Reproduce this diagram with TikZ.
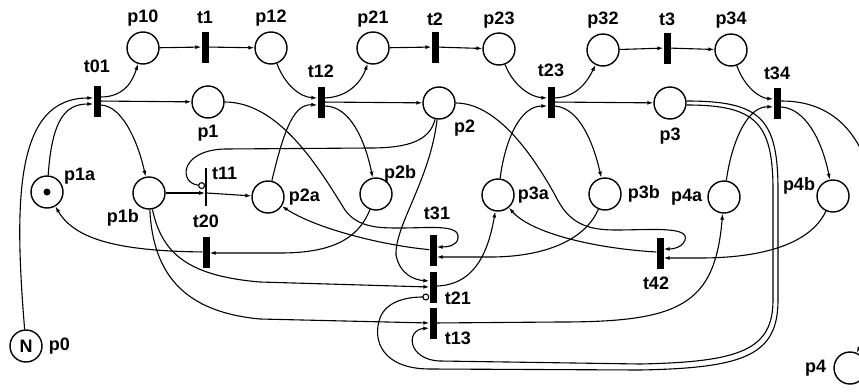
\documentclass[tikz,border=0pt]{standalone}
\usepackage{fontspec}
\setsansfont{Liberation Sans}
\usetikzlibrary{arrows.meta,positioning}
\tikzset{
  % Place
  place/.style={circle,draw,line width=1.4pt,minimum size=32pt,inner sep=0pt},
  % Timed transition
  trans/.style={rectangle,fill=black,minimum width=7pt,minimum height=31pt,inner sep=0pt},
  % Immediate transition
  imm/.style={rectangle,fill=black,minimum width=1.4pt,minimum height=38pt,inner sep=0pt},
  token/.style={circle,fill=black,minimum size=7pt,inner sep=0pt},
  % Labels
  lbl/.style={inner sep=0pt,font=\sffamily\bfseries\fontsize{18pt}{18pt}\selectfont},
  % Arcs
  arr/.style={-{Latex[length=6pt,width=4pt]},line width=1.1pt},
  inh/.style={-{Circle[open,length=7pt]},line width=1.1pt}
}
\begin{document}
\begin{tikzpicture}[x=1pt,y=-1pt]
  \useasboundingbox (0,0) rectangle (859,391);

  % places
  \node[place] (p10) at (143,48)  {};
  \node[place] (p12) at (271,48)  {};
  \node[place] (p21) at (373,48)  {};
  \node[place] (p23) at (499,49)  {};
  \node[place] (p32) at (603,50)  {};
  \node[place] (p34) at (731,50)  {};
  \node[place] (p1)  at (208,102) {};
  \node[place] (p2)  at (439,103) {};
  \node[place] (p3)  at (670,103) {};
  \node[place] (p1a) at (47,192)  {};
  \node[place] (p1b) at (149,193) {};
  \node[place] (p2a) at (268,197) {};
  \node[place] (p2b) at (376,194) {};
  \node[place] (p3a) at (498,195) {};
  \node[place] (p3b) at (605,194) {};
  \node[place] (p4a) at (724,197) {};
  \node[place] (p4b) at (833,196) {};
  \node[place] (p4)  at (850,368) {};
  \node[place,lbl] (p0) at (26,346) {N};
  \node[token] (tok) at (p1a) {};

  % transitions
  \node[trans] (t01) at (97,101)  {};
  \node[trans] (t1)  at (205,47)  {};
  \node[trans] (t12) at (321,102) {};
  \node[trans] (t2)  at (435,47)  {};
  \node[trans] (t23) at (551,102) {};
  \node[trans] (t3)  at (667,48)  {};
  \node[trans] (t34) at (777,103) {};
  \node[imm]   (t11) at (206,187) {};
  \node[trans] (t20) at (206,252) {};
  \node[trans] (t31) at (433,250) {};
  \node[trans] (t21) at (433,287) {};
  \node[trans] (t13) at (433,323) {};
  \node[trans] (t42) at (660,253) {};

  % labels
  \node[lbl,above=5pt of p10] (Lp10) {p10};
  \node[lbl,above=5pt of p12] (Lp12) {p12};
  \node[lbl,above=4pt of p21] (Lp21) {p21};
  \node[lbl,above=4pt of p23] (Lp23) {p23};
  \node[lbl,above=5pt of p32] (Lp32) {p32};
  \node[lbl,above=5pt of p34] (Lp34) {p34};
  \node[lbl,above=7pt of t1]  (Lt1)  {t1};
  \node[lbl,above=5pt of t2]  (Lt2)  {t2};
  \node[lbl,above=6pt of t3]  (Lt3)  {t3};
  \node[lbl,above=12pt of t01] (Lt01) {t01};
  \node[lbl,above=8pt of t12] (Lt12) {t12};
  \node[lbl,above=9pt of t23] (Lt23) {t23};
  \node[lbl,above=7pt of t34] (Lt34) {t34};
  \node[lbl,below=6pt of p1]  (Lp1)  {p1};
  \node[lbl,below right=5pt and 3pt of p2] (Lp2) {p2};
  \node[lbl,below=8pt of p3]  (Lp3)  {p3};
  \node[lbl,above right=-4pt and 5pt of p1a] (Lp1a) {p1a};
  \node[lbl,below left=4pt and -2pt of p1b] (Lp1b) {p1b};
  \node[lbl,right=4pt of p2a] (Lp2a) {p2a};
  \node[lbl,above right=0pt and -4pt of p2b] (Lp2b) {p2b};
  \node[lbl,right=3pt of p3a] (Lp3a) {p3a};
  \node[lbl,right=6pt of p3b] (Lp3b) {p3b};
  \node[lbl,left=5pt of p4a]  (Lp4a) {p4a};
  \node[lbl,above left=-10pt and 6pt of p4b] (Lp4b) {p4b};
  \node[lbl,left=7pt of p4]   (Lp4)  {p4};
  \node[lbl,right=6pt of p0]  (Lp0)  {p0};
  \node[lbl,above right=-12pt and 5pt of t11] (Lt11) {t11};
  \node[lbl,above=8pt of t20] (Lt20) {t20};
  \node[lbl,above=14pt of t31,xshift=4pt] (Lt31) {t31};
  \node[lbl,right=8pt of t21,yshift=-11pt] (Lt21) {t21};
  \node[lbl,right=8pt of t13,yshift=-15pt] (Lt13) {t13};
  \node[lbl,below=8pt of t42,xshift=-4pt] (Lt42) {t42};

  % top chain
  \draw[arr] (p0) .. controls (14,200) and (15,98) .. ([yshift=3pt]t01.west);
  \draw[arr] (p1a) .. controls (52,120) and (65,104) .. ([yshift=-3pt]t01.west);
  \draw[arr] ([yshift=4pt]t01.east) .. controls (125,97) and (133,80) .. (p10);
  \draw[arr] (t01) -- (p1);
  \draw[arr] ([yshift=-4pt]t01.east) .. controls (125,106) and (140,150) .. (p1b);
  \draw[arr] (p10) -- (t1);
  \draw[arr] (t1) -- (p12);
  \draw[arr] (p12) .. controls (285,85) and (300,97) .. ([yshift=4pt]t12.west);
  \draw[arr] (p2a) .. controls (285,125) and (295,104) .. ([yshift=-3pt]t12.west);
  \draw[arr] ([yshift=4pt]t12.east) .. controls (350,97) and (362,80) .. (p21);
  \draw[arr] (t12) -- (p2);
  \draw[arr] ([yshift=-4pt]t12.east) .. controls (350,106) and (365,140) .. (p2b);
  \draw[arr] (p21) -- (t2);
  \draw[arr] (t2) -- (p23);
  \draw[arr] (p23) .. controls (513,85) and (530,97) .. ([yshift=4pt]t23.west);
  \draw[arr] (p3a) .. controls (505,140) and (520,106) .. ([yshift=-4pt]t23.west);
  \draw[arr] ([yshift=4pt]t23.east) .. controls (578,97) and (588,80) .. (p32);
  \draw[arr] (t23) -- (p3);
  \draw[arr] ([yshift=-4pt]t23.east) .. controls (582,108) and (595,150) .. (p3b);
  \draw[arr] (p32) -- (t3);
  \draw[arr] (t3) -- (p34);
  \draw[arr] (p34) .. controls (745,88) and (760,98) .. ([yshift=4pt]t34.west);
  \draw[arr] (p4a) .. controls (732,140) and (748,106) .. ([yshift=-4pt]t34.west);
  \draw[arr] ([yshift=-4pt]t34.east) .. controls (805,108) and (822,140) .. (p4b);
  \draw[arr] ([yshift=2pt]t34.east) .. controls (905,100) and (885,290) .. (p4);

  % t11
  \draw[arr] (p1b) -- (p1b -| t11.west);
  \draw[arr] (t11.east |- p1b) -- (p2a);
  \draw[inh] (p2) .. controls (430,140) and (410,148) .. (370,148)
             -- (225,149) .. controls (180,150) and (178,183) .. ([yshift=1pt]t11.west);

  % hooks into t31 and t42
  \draw[arr] (p1) .. controls (280,102) and (320,170) .. (345,210)
             .. controls (358,228) and (380,228) .. (400,228)
             .. controls (430,228) and (460,224) .. (458,238)
             .. controls (457,246) and (447,247) .. ([yshift=3pt]t31.east);
  \draw[arr] (p2) .. controls (495,103) and (530,150) .. (555,195)
             .. controls (568,222) and (585,230) .. (615,230)
             .. controls (650,230) and (690,226) .. (685,240)
             .. controls (682,248) and (672,249) .. ([yshift=4pt]t42.east);

  % lower transitions
  \draw[arr] (p2) .. controls (430,180) and (395,225) .. (396,255)
             .. controls (400,275) and (415,280) .. ([yshift=6pt]t21.west);
  \draw[inh] ([yshift=2pt]p3.east) .. controls (760,101) and (778,118) .. (778,190)
             -- (778,300) .. controls (778,355) and (745,368) .. (640,370)
             -- (430,369) .. controls (382,369) and (372,340) .. (380,318)
             .. controls (386,302) and (405,297) .. ([yshift=-10pt]t21.west);
  \draw[arr] ([yshift=-2pt]p3.east) .. controls (755,105) and (773,122) .. (773,190)
             -- (773,300) .. controls (773,350) and (740,362) .. (640,364)
             -- (440,361) .. controls (408,360) and (405,330) .. ([yshift=-5pt]t13.west);
  \draw[arr] (p2b) .. controls (358,240) and (330,253) .. (280,253) -- ([yshift=-1pt]t20.east);
  \draw[arr] (t20) .. controls (120,251) and (75,240) .. (p1a);
  \draw[arr] (p1b) .. controls (162,255) and (190,276) .. (260,282) -- (t21.west);
  \draw[arr] (p1b) .. controls (153,275) and (185,312) .. (260,319) -- (t13.west);
  \draw[arr] ([yshift=1pt]t21.east) .. controls (470,285) and (487,260) .. (p3a);
  \draw[arr] (p3b) .. controls (585,240) and (545,257) .. (490,257) -- ([yshift=-7pt]t31.east);
  \draw[arr] (t31) .. controls (380,245) and (315,228) .. (p2a);
  \draw[arr] ([yshift=1pt]t42.west) .. controls (590,248) and (530,232) .. (p3a);
  \draw[arr] (p4b) .. controls (810,245) and (760,258) .. (700,258) -- ([yshift=-5pt]t42.east);
  \draw[arr] (t13) -- (560,322) .. controls (680,322) and (715,305) .. (p4a);
\end{tikzpicture}
\end{document}
